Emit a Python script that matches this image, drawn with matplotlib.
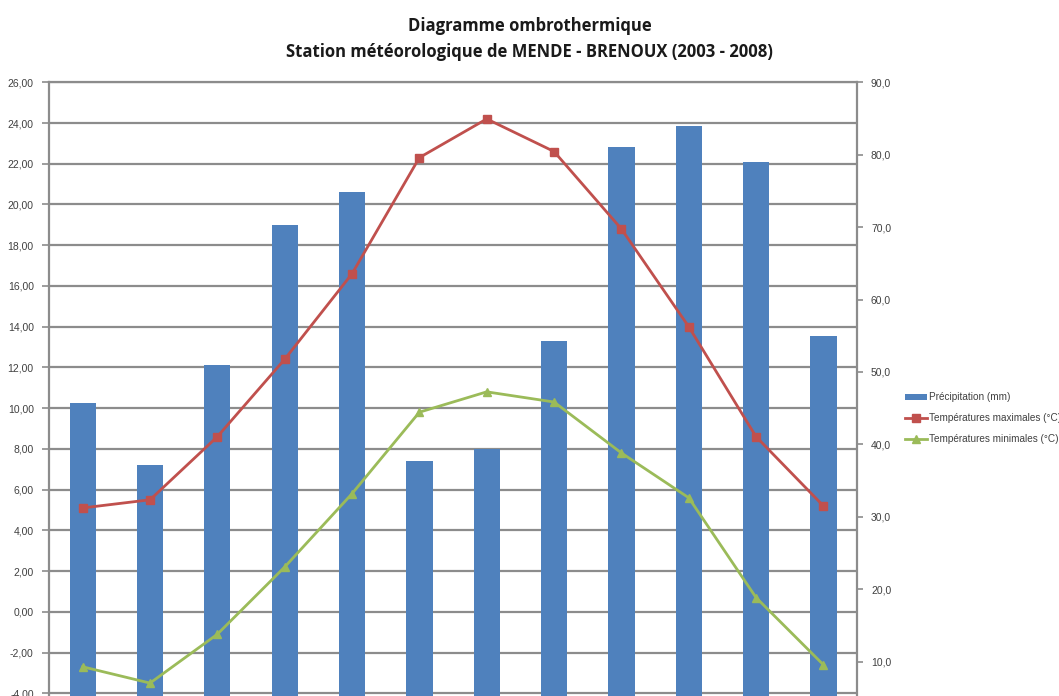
import matplotlib.pyplot as plt
from matplotlib.ticker import FixedLocator, FuncFormatter

# Mende - Brenoux, monthly means 2003-2008
months = ["Jan", "Fév", "Mar", "Avr", "Mai", "Juin", "Juil", "Août", "Sep", "Oct", "Nov", "Déc"]
precip = [45.7, 37.1, 50.9, 70.3, 74.8, 37.7, 39.3, 54.3, 81.0, 83.9, 79.0, 55.0]
t_max = [5.1, 5.5, 8.6, 12.4, 16.6, 22.3, 24.2, 22.6, 18.8, 14.0, 8.6, 5.2]
t_min = [-2.7, -3.5, -1.1, 2.2, 5.8, 9.8, 10.8, 10.3, 7.8, 5.6, 0.7, -2.6]

temp_ticks = list(range(-4, 27, 2))
precip_ticks = list(range(10, 91, 10))

BLUE = "#4F81BD"
RED = "#C0504D"
GREEN = "#9BBB59"
GRID = "#8C8C8C"
TXT = "#404040"

plt.rcParams["font.family"] = ["Liberation Sans Narrow", "Liberation Sans", "DejaVu Sans"]

fig = plt.figure(figsize=(10.59, 6.96), dpi=100)
rect = [0.0463, -0.0546, 0.7630, 0.9364]

x = list(range(len(months)))

# temperature axis: grid + left ticks
ax_t = fig.add_axes(rect)
ax_t.set_xlim(-0.5, 11.5)
ax_t.set_ylim(-6, 26)
ax_t.yaxis.set_major_locator(FixedLocator(temp_ticks))
ax_t.yaxis.set_major_formatter(FuncFormatter(lambda v, p: f"{v:.2f}".replace(".", ",")))
ax_t.grid(axis="y", color=GRID, lw=1.6)
ax_t.set_xticks([])
ax_t.tick_params(axis="y", length=5, width=1.2, color=GRID, labelsize=7.5, labelcolor=TXT, pad=6)
for s in ax_t.spines.values():
    s.set_color(GRID)
    s.set_linewidth(1.6)

# precipitation axis: bars + right ticks
ax_p = ax_t.twinx()
ax_p.set_ylim(0, 90)
bars = ax_p.bar(x, precip, width=0.39, color=BLUE, label="Précipitation (mm)", zorder=2)
ax_p.yaxis.set_major_locator(FixedLocator(precip_ticks))
ax_p.yaxis.set_major_formatter(FuncFormatter(lambda v, p: f"{v:.1f}".replace(".", ",")))
ax_p.tick_params(axis="y", length=4, width=1.2, color=GRID, labelsize=7.5, labelcolor=TXT, pad=6)
for s in ax_p.spines.values():
    s.set_visible(False)

# lines on top, same scale as temperatures
ax_l = fig.add_axes(rect, sharex=ax_t, sharey=ax_t, label="lines")
ax_l.axis("off")
ax_l.patch.set_visible(False)
l1, = ax_l.plot(x, t_max, color=RED, lw=2, marker="s", ms=5.5, label="Températures maximales (°C)")
l2, = ax_l.plot(x, t_min, color=GREEN, lw=2, marker="^", ms=5.5, label="Températures minimales (°C)")

fig.legend([bars, l1, l2], [bars.get_label(), l1.get_label(), l2.get_label()],
           loc="upper left", bbox_to_anchor=(0.846, 0.449), frameon=False,
           fontsize=7.2, handlelength=2.2, handleheight=0.5, handletextpad=0.2,
           labelspacing=1.1, labelcolor=TXT)

fig.text(0.5, 0.963, "Diagramme ombrothermique", ha="center", va="center",
         fontsize=12, fontweight="bold", color="#1a1a1a", family=["Open Sans", "DejaVu Sans"])
fig.text(0.5, 0.925, "Station météorologique de MENDE - BRENOUX (2003 - 2008)", ha="center", va="center",
         fontsize=12, fontweight="bold", color="#1a1a1a", family=["Open Sans", "DejaVu Sans"])

fig.savefig("out.png", dpi=100)
